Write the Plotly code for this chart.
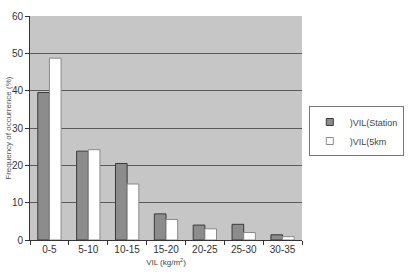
import plotly.graph_objects as go

categories = ["0-5", "5-10", "10-15", "15-20", "20-25", "25-30", "30-35"]
vil_station = [39.5, 23.8, 20.5, 7.0, 4.0, 4.2, 1.4]
vil_5km = [48.7, 24.2, 15.0, 5.5, 3.0, 2.0, 0.9]
y_ticks = [0, 10, 20, 30, 40, 50, 60]
series_names = [")VIL(Station", ")VIL(5km"]

fig = go.Figure()
fig.add_trace(go.Bar(
    x=categories, y=vil_station, name=series_names[0], showlegend=False,
    marker=dict(color="#8c8c8c", line=dict(color="#3a3a3a", width=1)),
))
fig.add_trace(go.Bar(
    x=categories, y=vil_5km, name=series_names[1], showlegend=False,
    marker=dict(color="#ffffff", line=dict(color="#8a8a8a", width=1)),
))
# legend entries with small square swatches
fig.add_trace(go.Scatter(
    x=[None], y=[None], mode="markers", name=series_names[0],
    marker=dict(symbol="square", size=7, color="#8c8c8c", line=dict(color="#3a3a3a", width=1)),
))
fig.add_trace(go.Scatter(
    x=[None], y=[None], mode="markers", name=series_names[1],
    marker=dict(symbol="square", size=7, color="#ffffff", line=dict(color="#8a8a8a", width=1)),
))

fig.update_layout(
    width=414, height=278,
    margin=dict(l=30, r=104, t=10, b=38),
    paper_bgcolor="white",
    plot_bgcolor="#c6c6c6",
    barmode="group",
    bargap=0.4,
    bargroupgap=0,
    font=dict(family="Liberation Sans, Arial, sans-serif", size=10, color="#333333"),
    showlegend=True,
    legend=dict(
        x=1.025, y=0.596, xanchor="left", yanchor="top",
        bordercolor="#777777", borderwidth=1, bgcolor="white",
        font=dict(size=9, color="#444444"),
        itemwidth=30,
        tracegroupgap=4,
    ),
    xaxis=dict(
        type="category",
        showline=True, linecolor="#333333", linewidth=1,
        ticks="outside", tickson="boundaries", ticklen=4, tickcolor="#333333",
        tickfont=dict(size=10, color="#333333"),
        title=dict(text="VIL (kg/m<sup>2</sup>)", font=dict(size=8, color="#444444"), standoff=5),
        showgrid=False,
    ),
    yaxis=dict(
        range=[0, 60], tickvals=y_ticks,
        showline=True, linecolor="#333333", linewidth=1,
        ticks="outside", ticklen=4, tickcolor="#333333",
        tickfont=dict(size=10, color="#333333"),
        showgrid=True, gridcolor="#5a5a5a", gridwidth=1,
        zeroline=False,
    ),
    annotations=[dict(
        text="Frequency of occurrence (%)", textangle=-90,
        xref="paper", yref="paper", x=-0.082, y=0.5,
        xanchor="center", yanchor="middle", showarrow=False,
        font=dict(size=8, color="#555555"),
    )],
)

fig.write_html("out.html")
